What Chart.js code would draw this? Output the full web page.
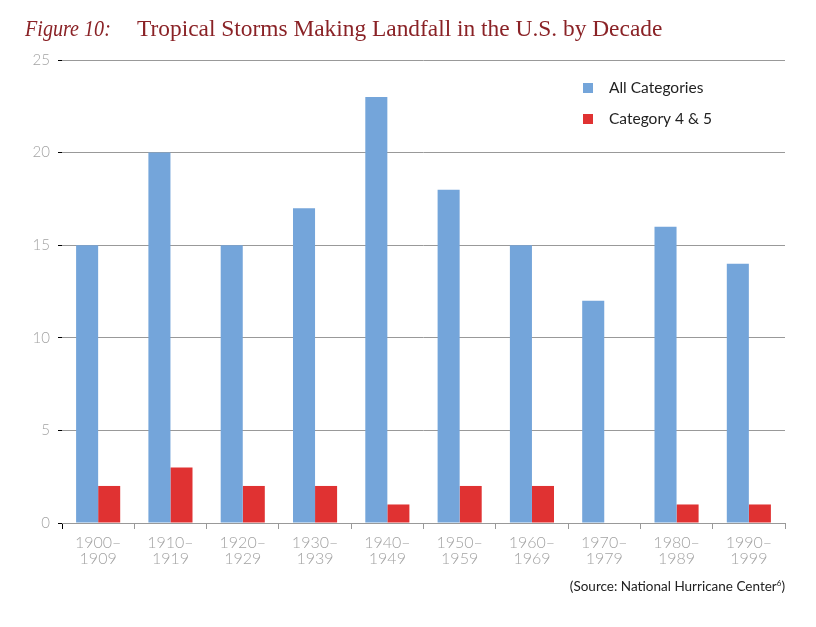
<!DOCTYPE html>
<html>
<head>
<meta charset="utf-8">
<script src="https://cdn.jsdelivr.net/npm/chart.js@4.4.1/dist/chart.umd.min.js"></script>
<style>
  html, body { margin: 0; padding: 0; background: #fff; }
  #wrap { position: relative; width: 816px; height: 627px; overflow: hidden; }
  #c { position: absolute; left: 0; top: 0; }
  #title { position: absolute; left: 25px; top: 15px; font-family: "Liberation Serif", serif; font-size: 23.4px; color: #8a2226; white-space: nowrap; }
  #title i { display: inline-block; width: 112px; transform: scaleX(0.86); transform-origin: left center; }
  #source { position: absolute; right: 31px; top: 578px; font-family: Lato, sans-serif; font-size: 13.5px; color: #222; white-space: nowrap; }
  #source sup { font-size: 8px; vertical-align: 5px; }
</style>
</head>
<body>
<div id="wrap">
  <canvas id="c" width="816" height="627"></canvas>
  <div id="title"><i>Figure 10:</i>Tropical Storms Making Landfall in the U.S. by Decade</div>
  <div id="source">(Source: National Hurricane Center<sup>6</sup>)</div>
</div>
<script>
const decadeStarts = ['1900', '1910', '1920', '1930', '1940', '1950', '1960', '1970', '1980', '1990'];
const decadeEnds   = ['1909', '1919', '1929', '1939', '1949', '1959', '1969', '1979', '1989', '1999'];
const allCategories = [15, 20, 15, 17, 23, 18, 15, 12, 16, 14];
const category45    = [2, 3, 2, 2, 1, 2, 2, 0, 1, 1];
const yTicks = [0, 5, 10, 15, 20, 25];
const seriesNames = ['All Categories', 'Category 4 & 5'];

const labels = decadeStarts.map((s, i) => [s + '\u2013', decadeEnds[i]]);

const legendPlugin = {
  id: 'insideLegend',
  afterDraw(chart) {
    const ctx = chart.ctx;
    ctx.save();
    const ys = [88, 119];
    chart.data.datasets.forEach((ds, i) => {
      ctx.fillStyle = ds.backgroundColor;
      ctx.fillRect(583, ys[i] - 5, 10, 10);
      ctx.fillStyle = '#222';
      ctx.font = '15.5px Lato, sans-serif';
      ctx.textBaseline = 'middle';
      ctx.textAlign = 'left';
      ctx.fillText(ds.label, 609, ys[i]);
    });
    ctx.restore();
  }
};

new Chart(document.getElementById('c'), {
  type: 'bar',
  data: {
    labels: labels,
    datasets: [
      { label: seriesNames[0], data: allCategories, backgroundColor: '#74a5da', borderWidth: 0 },
      { label: seriesNames[1], data: category45, backgroundColor: '#e03232', borderWidth: 0 }
    ]
  },
  options: {
    responsive: false,
    animation: false,
    devicePixelRatio: 1,
    layout: { padding: { left: 0, right: 31, top: 60, bottom: 0 } },
    plugins: {
      legend: { display: false },
      title: { display: false },
      tooltip: { enabled: false }
    },
    datasets: { bar: { categoryPercentage: 0.61, barPercentage: 1.0 } },
    scales: {
      x: {
        offset: true,
        grid: {
          display: true,
          offset: true,
          drawOnChartArea: false,
          drawTicks: true,
          tickLength: 6,
          color: (c) => (c.index === 0 || c.index === decadeStarts.length) ? '#000' : '#999'
        },
        border: { display: true, color: '#999', width: 1 },
        ticks: {
          color: '#a3a3a3',
          font: { family: 'Lato', size: 16, weight: '300', lineHeight: 1.0 },
          padding: 6,
          maxRotation: 0,
          autoSkip: false
        },
        afterFit(scale) { scale.height = 104; }
      },
      y: {
        min: 0,
        max: 25,
        afterBuildTicks(scale) { scale.ticks = yTicks.map(v => ({ value: v })); },
        grid: {
          color: '#999',
          tickColor: '#000',
          tickLength: 4,
          lineWidth: 1,
          drawTicks: true
        },
        border: { display: false },
        ticks: {
          color: '#a3a3a3',
          font: { family: 'Lato', size: 15, weight: '300' },
          padding: 8
        },
        afterFit(scale) { scale.width = 62; }
      }
    }
  },
  plugins: [legendPlugin]
});
</script>
</body>
</html>
